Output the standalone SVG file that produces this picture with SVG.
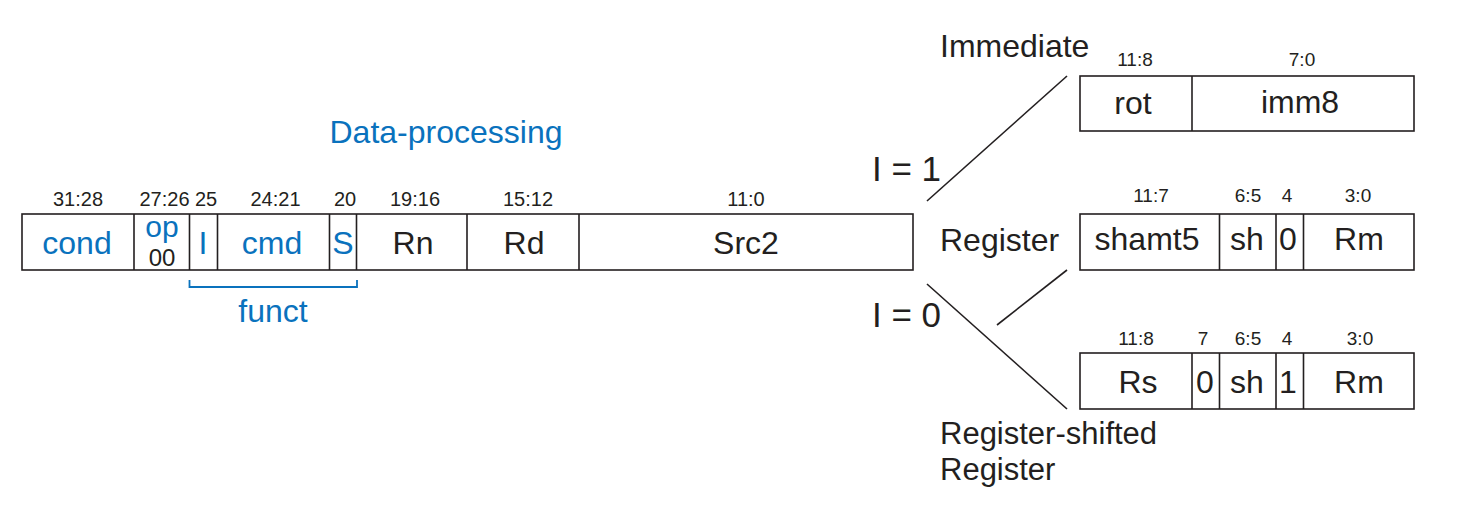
<svg xmlns="http://www.w3.org/2000/svg" width="1459" height="510" viewBox="0 0 1459 510">
<style>
text{font-family:"Liberation Sans",Arial,sans-serif;fill:#231f20}
.f{font-size:32px;text-anchor:middle}
.b{fill:#0a72bd}
.bit{font-size:19px;text-anchor:middle}
.mbit{font-size:20px;text-anchor:middle}
.lbl{font-size:32px}
.eq{font-size:35px}
.box{fill:#fff;stroke:#231f20;stroke-width:1.6}
.ln{stroke:#231f20;stroke-width:1.6;fill:none}
</style>
<rect width="1459" height="510" fill="#fff"/>
<g id="title"><text class="f b" x="446" y="143">Data-processing</text></g>
<g id="main">
<rect class="box" x="22" y="214" width="891" height="56"/>
<path class="ln" d="M134,214V270M189.5,214V270M217.5,214V270M329.5,214V270M356.5,214V270M467,214V270M579,214V270"/>
<text class="mbit" x="78" y="206">31:28</text>
<text class="mbit" x="164.5" y="206">27:26</text>
<text class="mbit" x="206" y="206">25</text>
<text class="mbit" x="275.5" y="206">24:21</text>
<text class="mbit" x="345" y="206">20</text>
<text class="mbit" x="415" y="206">19:16</text>
<text class="mbit" x="528" y="206">15:12</text>
<text class="mbit" x="746" y="206">11:0</text>
<text class="f b" x="77" y="254">cond</text>
<text class="f b" x="162" y="237" style="font-size:30px">op</text>
<text class="f" x="162" y="266" style="font-size:24px">00</text>
<text class="f b" x="203" y="254">I</text>
<text class="f b" x="272" y="254">cmd</text>
<text class="f b" x="343" y="254">S</text>
<text class="f" x="413" y="254">Rn</text>
<text class="f" x="524" y="254">Rd</text>
<text class="f" x="746" y="254">Src2</text>
</g>
<g id="funct">
<path d="M189.5,280V287H357V280" fill="none" stroke="#0a72bd" stroke-width="1.8"/>
<text class="f b" x="273" y="322">funct</text>
</g>
<g id="immediate">
<text class="lbl" x="940" y="57">Immediate</text>
<rect class="box" x="1080" y="76" width="334" height="55"/>
<path class="ln" d="M1192,76V131"/>
<text class="bit" x="1135" y="66">11:8</text>
<text class="bit" x="1302" y="66">7:0</text>
<text class="f" x="1133" y="114">rot</text>
<text class="f" x="1300" y="113">imm8</text>
</g>
<g id="register">
<text class="lbl" x="940" y="251">Register</text>
<rect class="box" x="1080" y="214" width="334" height="56"/>
<path class="ln" d="M1219.5,214V270M1276,214V270M1303.5,214V270"/>
<text class="bit" x="1151" y="202">11:7</text>
<text class="bit" x="1248" y="202">6:5</text>
<text class="bit" x="1287" y="202">4</text>
<text class="bit" x="1358" y="202">3:0</text>
<text class="f" x="1147" y="250">shamt5</text>
<text class="f" x="1247" y="250">sh</text>
<text class="f" x="1288" y="250">0</text>
<text class="f" x="1359" y="250">Rm</text>
</g>
<g id="regshift">
<text class="lbl" x="940" y="444" style="font-size:31px">Register-shifted</text>
<text class="lbl" x="940" y="480" style="font-size:31px">Register</text>
<rect class="box" x="1080" y="353" width="334" height="56"/>
<path class="ln" d="M1192,353V409M1219.5,353V409M1276,353V409M1303.5,353V409"/>
<text class="bit" x="1136" y="345">11:8</text>
<text class="bit" x="1203" y="345">7</text>
<text class="bit" x="1248" y="345">6:5</text>
<text class="bit" x="1287" y="345">4</text>
<text class="bit" x="1360" y="345">3:0</text>
<text class="f" x="1138" y="393">Rs</text>
<text class="f" x="1205" y="393">0</text>
<text class="f" x="1247" y="393">sh</text>
<text class="f" x="1288" y="393">1</text>
<text class="f" x="1359" y="393">Rm</text>
</g>
<g id="connectors">
<path class="ln" d="M927,201L1067,76"/>
<path class="ln" d="M927,284L1067,409"/>
<path class="ln" d="M997,325L1067,270"/>
<text class="eq" x="872" y="181">I = 1</text>
<text class="eq" x="872" y="327">I = 0</text>
</g>
</svg>
